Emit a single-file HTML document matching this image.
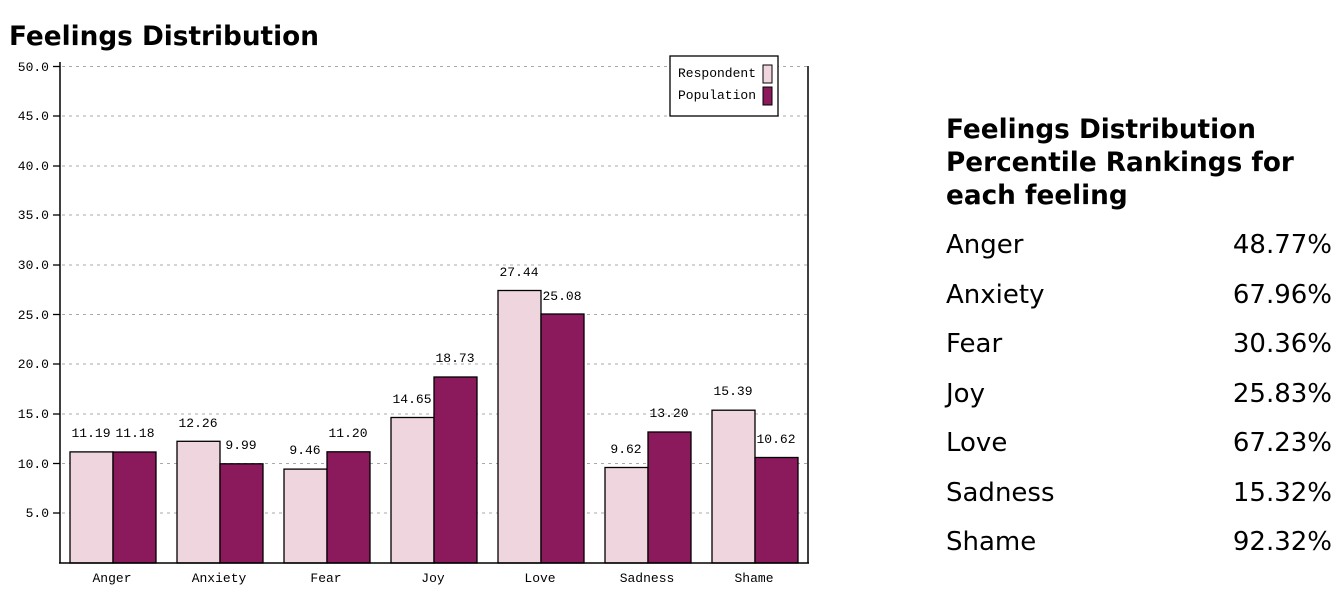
<!DOCTYPE html>
<html><head><style>
body{margin:0;width:1344px;height:594px;background:#fff;overflow:hidden;font-family:"DejaVu Sans","Liberation Sans",sans-serif}
h1{position:absolute;left:9px;top:22px;margin:0;font-size:26.3px;font-weight:bold;color:#000}
.t{position:absolute;left:946px;top:114px;font-size:26.3px;font-weight:bold;line-height:33px;color:#000}
.r{position:absolute;left:946px;width:386px;font-size:26px;color:#000}
.r span{float:right}
</style></head><body>
<h1>Feelings Distribution</h1>
<svg width="1344" height="594" style="position:absolute;left:0;top:0" font-family="Liberation Mono, monospace" font-size="13">
<g stroke="#aaa" stroke-dasharray="3,4">
<line x1="62" x2="808" y1="66.5" y2="66.5"/><line x1="62" x2="808" y1="116" y2="116"/><line x1="62" x2="808" y1="166" y2="166"/><line x1="62" x2="808" y1="215" y2="215"/><line x1="62" x2="808" y1="265" y2="265"/><line x1="62" x2="808" y1="314.5" y2="314.5"/><line x1="62" x2="808" y1="364" y2="364"/><line x1="62" x2="808" y1="414" y2="414"/><line x1="62" x2="808" y1="463.5" y2="463.5"/><line x1="62" x2="808" y1="513" y2="513"/>
</g>
<g text-anchor="end" fill="#000">
<text x="49" y="71">50.0</text><text x="49" y="120">45.0</text><text x="49" y="170">40.0</text><text x="49" y="219">35.0</text><text x="49" y="269">30.0</text><text x="49" y="319">25.0</text><text x="49" y="368">20.0</text><text x="49" y="418">15.0</text><text x="49" y="468">10.0</text><text x="49" y="517">5.0</text>
</g>
<g stroke="#000" stroke-width="1.3">
<line x1="53" x2="60" y1="66.5" y2="66.5"/><line x1="53" x2="60" y1="116" y2="116"/><line x1="53" x2="60" y1="166" y2="166"/><line x1="53" x2="60" y1="215" y2="215"/><line x1="53" x2="60" y1="265" y2="265"/><line x1="53" x2="60" y1="314.5" y2="314.5"/><line x1="53" x2="60" y1="364" y2="364"/><line x1="53" x2="60" y1="414" y2="414"/><line x1="53" x2="60" y1="463.5" y2="463.5"/><line x1="53" x2="60" y1="513" y2="513"/>
</g>
<g stroke="#000" stroke-width="1.3">
<rect x="70" y="451.9" width="43" height="111.1" fill="#efd5de"/><rect x="113" y="452" width="43" height="111" fill="#8b1a5c"/>
<rect x="177" y="441.3" width="43" height="121.7" fill="#efd5de"/><rect x="220" y="463.8" width="43" height="99.2" fill="#8b1a5c"/>
<rect x="284" y="469.1" width="43" height="93.9" fill="#efd5de"/><rect x="327" y="451.8" width="43" height="111.2" fill="#8b1a5c"/>
<rect x="391" y="417.5" width="43" height="145.5" fill="#efd5de"/><rect x="434" y="377" width="43" height="186" fill="#8b1a5c"/>
<rect x="498" y="290.5" width="43" height="272.5" fill="#efd5de"/><rect x="541" y="314" width="43" height="249" fill="#8b1a5c"/>
<rect x="605" y="467.5" width="43" height="95.5" fill="#efd5de"/><rect x="648" y="432" width="43" height="131" fill="#8b1a5c"/>
<rect x="712" y="410.2" width="43" height="152.8" fill="#efd5de"/><rect x="755" y="457.5" width="43" height="105.5" fill="#8b1a5c"/>
</g>
<line x1="60" x2="60" y1="62" y2="563" stroke="#000" stroke-width="1.5"/>
<line x1="808" x2="808" y1="66" y2="563" stroke="#000" stroke-width="1.5"/>
<line x1="59" x2="809" y1="563" y2="563" stroke="#000" stroke-width="1.5"/>
<g text-anchor="middle" fill="#000">
<text x="91" y="437">11.19</text><text x="135" y="437">11.18</text>
<text x="198" y="427">12.26</text><text x="241" y="449">9.99</text>
<text x="305" y="454">9.46</text><text x="348" y="437">11.20</text>
<text x="412" y="403">14.65</text><text x="455" y="362">18.73</text>
<text x="519" y="276">27.44</text><text x="562" y="300">25.08</text>
<text x="626" y="453">9.62</text><text x="669" y="417">13.20</text>
<text x="733" y="395">15.39</text><text x="776" y="443">10.62</text>
<text x="112" y="582">Anger</text><text x="219" y="582">Anxiety</text><text x="326" y="582">Fear</text><text x="433" y="582">Joy</text><text x="540" y="582">Love</text><text x="647" y="582">Sadness</text><text x="754" y="582">Shame</text>
</g>
<rect x="670" y="56" width="108" height="60" fill="#fff" stroke="#000" stroke-width="1.3"/>
<text x="678" y="77" fill="#000">Respondent</text><text x="678" y="99" fill="#000">Population</text>
<rect x="763" y="65" width="9" height="18" fill="#efd5de" stroke="#000"/>
<rect x="763" y="87" width="9" height="18" fill="#8b1a5c" stroke="#000"/>
</svg>
<div class="t">Feelings Distribution<br>Percentile Rankings for<br>each feeling</div>
<div class="r" style="top:230px">Anger<span>48.77%</span></div>
<div class="r" style="top:280px">Anxiety<span>67.96%</span></div>
<div class="r" style="top:329px">Fear<span>30.36%</span></div>
<div class="r" style="top:379px">Joy<span>25.83%</span></div>
<div class="r" style="top:428px">Love<span>67.23%</span></div>
<div class="r" style="top:478px">Sadness<span>15.32%</span></div>
<div class="r" style="top:527px">Shame<span>92.32%</span></div>
</body></html>
